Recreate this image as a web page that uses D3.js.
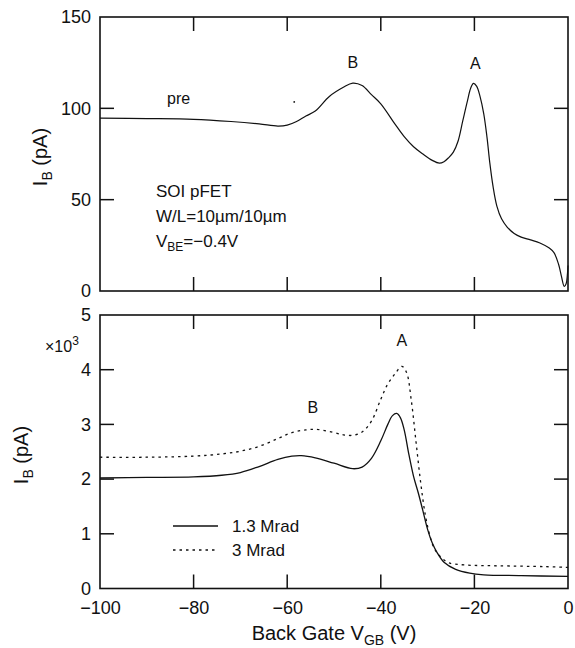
<!DOCTYPE html>
<html><head><meta charset="utf-8">
<script src="https://cdn.jsdelivr.net/npm/d3@7"></script>
<style>
html,body{margin:0;padding:0;background:#fff;}
text{font-family:"Liberation Sans",Arial,Helvetica,sans-serif;fill:#111;}
</style></head>
<body><svg id="c" width="575" height="648"></svg>
<script>
// ---- data ----
const preV = [-100,-90,-80,-72,-66,-62,-60,-58,-56,-54,-51,-48,-46,-44,-42,-40,-37,-35,-33,-31,-29,-27.5,-26.5,-25.5,-24.5,-23.5,-22.5,-21.5,-20.8,-20.2,-19.5,-18.8,-18,-17.3,-16.7,-16,-15.2,-14.2,-13,-11.5,-10,-8,-6,-4,-3,-2,-1.4,-0.8,-0.4,-0.1,0];
const preI = [94.6,94.4,94.0,92.8,91.5,90.3,90.8,92.8,95.8,98.5,106.5,111.5,113.8,112.5,107.5,102.5,91.5,84.5,79,75,71.5,70.0,70.8,73,76,82,93,104,111,113.7,112,106.5,97,84,70,57,46.5,39.5,35,31.5,29.5,28,26.3,23.5,21,14.5,8,2.5,4,10,14];

const m13V = [-100,-90,-80,-74,-70,-66,-62,-59,-57,-54,-50,-46,-44,-42,-40,-38.5,-37.5,-36.6,-35.8,-35,-34,-33,-32,-31,-30,-29,-28,-26.5,-24,-21,-18,-10,0];
const m13I = [2020,2030,2040,2070,2120,2230,2360,2420,2430,2390,2290,2190,2220,2380,2700,3000,3160,3200,3120,2900,2450,2050,1750,1420,1080,830,660,480,350,280,250,235,220];

const m3V = [-100,-90,-80,-74,-70,-66,-62,-59,-56,-54,-51,-48,-46,-44,-42,-40,-38.5,-37,-35.5,-34.5,-33.5,-32.5,-31.5,-30.5,-29.5,-28.5,-27,-25.5,-22,-15,-5,0];
const m3I = [2400,2400,2420,2460,2510,2600,2740,2850,2900,2910,2870,2810,2800,2860,3060,3460,3740,3920,4060,3950,3450,2700,1950,1350,960,720,560,470,430,415,400,385];

const xTicks = [-100,-80,-60,-40,-20,0];
const topYTicks = [0,50,100,150];
const botYTicks = [0,1000,2000,3000,4000,5000];
const legendLabels = ["1.3 Mrad","3 Mrad"];

// ---- layout ----
const svg = d3.select("#c");
const L=100, R=568;
const x = d3.scaleLinear().domain([-100,0]).range([L,R]);
const yT = d3.scaleLinear().domain([0,150]).range([291,17]);
const yB = d3.scaleLinear().domain([0,5000]).range([588.5,315]);
const TK = 14;
const fs = "18px";

function frame(y){
  const [b,t] = y.range();
  svg.append("rect").attr("x",L).attr("y",t).attr("width",R-L).attr("height",b-t)
    .attr("fill","none").attr("stroke","#111").attr("stroke-width",1.6);
  // inward ticks
  const g = svg.append("g").attr("stroke","#111").attr("stroke-width",1.5);
  xTicks.slice(1,-1).forEach(v=>{
    g.append("line").attr("x1",x(v)).attr("x2",x(v)).attr("y1",t).attr("y2",t+TK);
    g.append("line").attr("x1",x(v)).attr("x2",x(v)).attr("y1",b).attr("y2",b-TK);
  });
  y.ticks(y===yT?3:5).slice(1,-1).forEach(v=>{
    g.append("line").attr("x1",L).attr("x2",L+TK).attr("y1",y(v)).attr("y2",y(v));
    g.append("line").attr("x1",R).attr("x2",R-TK).attr("y1",y(v)).attr("y2",y(v));
  });
}
frame(yT); frame(yB);

// y axis labels via d3 axes (ticks hidden - drawn by frame)
const axT = svg.append("g").attr("transform",`translate(${L},0)`)
  .call(d3.axisLeft(yT).tickValues(topYTicks).tickSize(0).tickPadding(9));
const axB = svg.append("g").attr("transform",`translate(${L},0)`)
  .call(d3.axisLeft(yB).tickValues(botYTicks).tickFormat(d=>d/1000).tickSize(0).tickPadding(9));
const axX = svg.append("g").attr("transform",`translate(0,588.5)`)
  .call(d3.axisBottom(x).tickValues(xTicks).tickSize(0).tickPadding(13));
[axT,axB,axX].forEach(a=>{
  a.select(".domain").remove();
  a.selectAll("text").style("font-size",fs).attr("fill","#111")
    .style("font-family","'Liberation Sans',Arial,sans-serif");
});

// curves
const mk = (V,I)=>V.map((v,i)=>[v,I[i]]);
const lineT = d3.line().x(d=>x(d[0])).y(d=>yT(d[1])).curve(d3.curveCatmullRom.alpha(0.5));
const lineB = d3.line().x(d=>x(d[0])).y(d=>yB(d[1])).curve(d3.curveCatmullRom.alpha(0.5));
svg.append("path").attr("d",lineT(mk(preV,preI))).attr("fill","none").attr("stroke","#111").attr("stroke-width",1.2);
svg.append("path").attr("d",lineB(mk(m13V,m13I))).attr("fill","none").attr("stroke","#111").attr("stroke-width",1.3);
svg.append("path").attr("d",lineB(mk(m3V,m3I))).attr("fill","none").attr("stroke","#111").attr("stroke-width",1.3)
  .attr("stroke-dasharray","2.5,4");

// small stray dot in the top panel
svg.append("circle").attr("cx",x(-58.5)).attr("cy",yT(103.5)).attr("r",0.9).attr("fill","#111");

// axis titles
function ytitle(cx,cy){
  const t = svg.append("text").attr("transform",`translate(${cx},${cy}) rotate(-90)`)
    .attr("text-anchor","middle").style("font-size","20px");
  t.append("tspan").text("I");
  t.append("tspan").text("B").style("font-size","14px").attr("dy",5);
  t.append("tspan").text(" (pA)").attr("dy",-5);
}
ytitle(47,157); ytitle(28,455);

const xt = svg.append("text").attr("x",334).attr("y",640).attr("text-anchor","middle").style("font-size","20px");
xt.append("tspan").text("Back Gate V");
xt.append("tspan").text("GB").style("font-size","14px").attr("dy",5);
xt.append("tspan").text(" (V)").attr("dy",-5);

// x10^3
const sc = svg.append("text").attr("x",45).attr("y",352).style("font-size","16px");
sc.append("tspan").text("×10");
sc.append("tspan").text("3").style("font-size","12px").attr("dy",-7);

// annotations
const ann = (tx,ty,s,size)=>svg.append("text").attr("x",tx).attr("y",ty).style("font-size",size||"17px").text(s);
ann(167,104,"pre","16px");
svg.append("text").attr("x",x(-46)).attr("y",68).attr("text-anchor","middle").style("font-size","16px").text("B");
svg.append("text").attr("x",x(-19.8)).attr("y",69).attr("text-anchor","middle").style("font-size","16px").text("A");
svg.append("text").attr("x",x(-35.5)).attr("y",346).attr("text-anchor","middle").style("font-size","16px").text("A");
svg.append("text").attr("x",x(-54.5)).attr("y",413).attr("text-anchor","middle").style("font-size","16px").text("B");
ann(156,197,"SOI pFET");
ann(156,222,"W/L=10µm/10µm");
const vb = svg.append("text").attr("x",156).attr("y",247).style("font-size","17px");
vb.append("tspan").text("V");
vb.append("tspan").text("BE").style("font-size","12px").attr("dy",4);
vb.append("tspan").text("=−0.4V").attr("dy",-4);

// legend
const lg = svg.append("g");
[0,1].forEach(i=>{
  const ly = 526 + i*24;
  lg.append("line").attr("x1",173).attr("x2",218).attr("y1",ly).attr("y2",ly)
    .attr("stroke","#111").attr("stroke-width",1.3).attr("stroke-dasharray",i?"2.5,4":null);
  lg.append("text").attr("x",232).attr("y",ly+6).style("font-size","17px").text(legendLabels[i]);
});
</script></body></html>
